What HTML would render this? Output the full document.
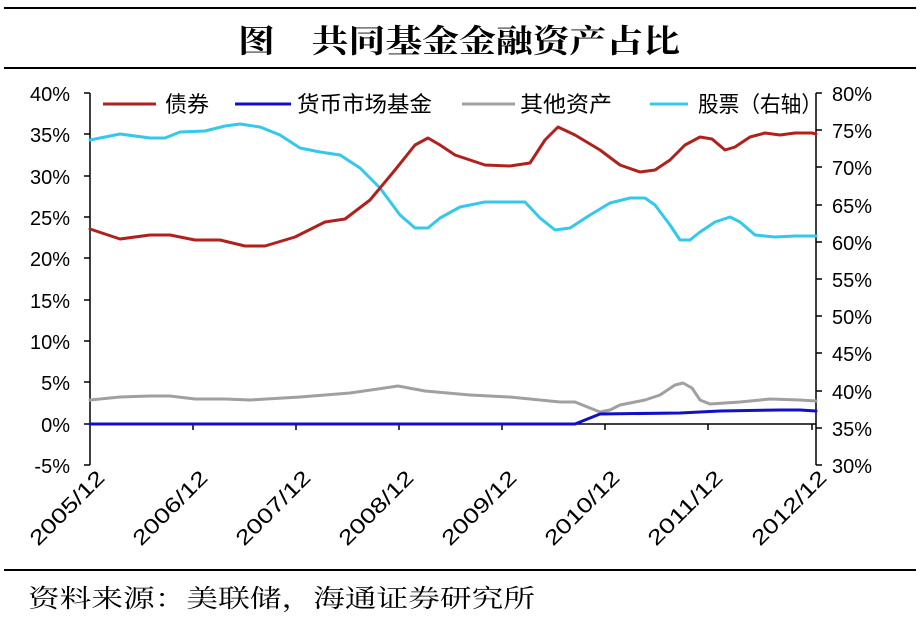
<!DOCTYPE html>
<html><head><meta charset="utf-8"><style>
body{margin:0;background:#fff;}
svg text{font-family:"Liberation Sans","Noto Sans CJK SC",sans-serif;}
</style></head><body>
<svg width="920" height="618" xmlns="http://www.w3.org/2000/svg">
<line x1="4" y1="8" x2="916" y2="8" stroke="#000" stroke-width="2"/>
<line x1="4" y1="68" x2="916" y2="68" stroke="#000" stroke-width="2"/>
<line x1="4" y1="570" x2="916" y2="570" stroke="#000" stroke-width="2"/>
<text x="238" y="52" font-size="32" font-weight="bold" textLength="442" lengthAdjust="spacingAndGlyphs" style="font-family:'Noto Serif CJK SC','Noto Sans CJK SC',serif">图　共同基金金融资产占比</text>
<text x="28" y="607" font-size="25" textLength="507" lengthAdjust="spacingAndGlyphs" style="font-family:'Noto Serif CJK SC','Noto Sans CJK SC',serif">资料来源：美联储，海通证券研究所</text>
<g stroke="#000" stroke-width="1.5" fill="none">
<line x1="90" y1="93" x2="90" y2="465"/>
<line x1="84" y1="93" x2="90" y2="93"/><line x1="84" y1="134" x2="90" y2="134"/><line x1="84" y1="176" x2="90" y2="176"/><line x1="84" y1="217" x2="90" y2="217"/><line x1="84" y1="258" x2="90" y2="258"/><line x1="84" y1="300" x2="90" y2="300"/><line x1="84" y1="341" x2="90" y2="341"/><line x1="84" y1="382" x2="90" y2="382"/><line x1="84" y1="424" x2="90" y2="424"/><line x1="84" y1="465" x2="90" y2="465"/>
<line x1="816" y1="93" x2="816" y2="465"/>
<line x1="816" y1="93" x2="822" y2="93"/><line x1="816" y1="130" x2="822" y2="130"/><line x1="816" y1="167" x2="822" y2="167"/><line x1="816" y1="205" x2="822" y2="205"/><line x1="816" y1="242" x2="822" y2="242"/><line x1="816" y1="279" x2="822" y2="279"/><line x1="816" y1="316" x2="822" y2="316"/><line x1="816" y1="353" x2="822" y2="353"/><line x1="816" y1="391" x2="822" y2="391"/><line x1="816" y1="428" x2="822" y2="428"/><line x1="816" y1="465" x2="822" y2="465"/>
<line x1="90" y1="424" x2="816" y2="424"/>
<line x1="193" y1="424" x2="193" y2="430"/><line x1="296" y1="424" x2="296" y2="430"/><line x1="399" y1="424" x2="399" y2="430"/><line x1="502" y1="424" x2="502" y2="430"/><line x1="605" y1="424" x2="605" y2="430"/><line x1="708" y1="424" x2="708" y2="430"/><line x1="812" y1="424" x2="812" y2="430"/>
</g>
<g font-size="20" text-anchor="end">
<text x="70" y="101">40%</text><text x="70" y="142">35%</text><text x="70" y="184">30%</text><text x="70" y="225">25%</text><text x="70" y="266">20%</text><text x="70" y="308">15%</text><text x="70" y="349">10%</text><text x="70" y="390">5%</text><text x="70" y="432">0%</text><text x="70" y="473">-5%</text>
</g>
<g font-size="20">
<text x="832" y="101">80%</text><text x="832" y="138">75%</text><text x="832" y="175">70%</text><text x="832" y="213">65%</text><text x="832" y="250">60%</text><text x="832" y="287">55%</text><text x="832" y="324">50%</text><text x="832" y="361">45%</text><text x="832" y="399">40%</text><text x="832" y="436">35%</text><text x="832" y="473">30%</text>
</g>
<g font-size="21" text-anchor="end">
<text transform="translate(106,479) rotate(-45)" textLength="96" lengthAdjust="spacingAndGlyphs">2005/12</text>
<text transform="translate(209,479) rotate(-45)" textLength="96" lengthAdjust="spacingAndGlyphs">2006/12</text>
<text transform="translate(312,479) rotate(-45)" textLength="96" lengthAdjust="spacingAndGlyphs">2007/12</text>
<text transform="translate(415,479) rotate(-45)" textLength="96" lengthAdjust="spacingAndGlyphs">2008/12</text>
<text transform="translate(518,479) rotate(-45)" textLength="96" lengthAdjust="spacingAndGlyphs">2009/12</text>
<text transform="translate(621,479) rotate(-45)" textLength="96" lengthAdjust="spacingAndGlyphs">2010/12</text>
<text transform="translate(724,479) rotate(-45)" textLength="96" lengthAdjust="spacingAndGlyphs">2011/12</text>
<text transform="translate(828,479) rotate(-45)" textLength="96" lengthAdjust="spacingAndGlyphs">2012/12</text>
</g>
<g fill="none" stroke-width="3" stroke-linejoin="round" stroke-linecap="round">
<polyline stroke="#a0a0a0" points="90,400 120,397 150,396 170,396 195,399 225,399 250,400 300,397 350,393 398,386 425,391 470,395 510,397 540,400 560,402 575,402 590,408 600,412 610,410 620,405 645,400 660,395 675,385 683,383 692,388 700,400 710,404 740,402 770,399 800,400 816,401"/>
<polyline stroke="#1010c8" points="90,424 570,424 575,424 580,422 600,414 680,413 720,411 780,410 800,410 816,411"/>
<polyline stroke="#33c8ec" points="90,140 120,134 150,138 165,138 180,132 205,131 225,126 240,124 260,127 280,135 300,148 320,152 340,155 360,168 380,188 400,215 415,228 428,228 440,218 460,207 485,202 510,202 525,202 540,218 555,230 570,228 590,215 610,203 630,198 645,198 655,205 670,225 680,240 690,240 700,232 715,222 730,217 740,222 755,235 775,237 795,236 816,236"/>
<polyline stroke="#b0201c" points="90,229 120,239 150,235 170,235 195,240 220,240 245,246 265,246 295,237 325,222 345,219 370,200 395,170 415,145 428,138 440,145 455,155 485,165 510,166 530,163 545,140 558,127 575,135 600,150 620,165 640,172 655,170 670,160 685,145 700,137 712,139 725,150 735,147 750,137 765,133 780,135 795,133 812,133 816,134"/>
</g>
<g stroke-width="3">
<line x1="103" y1="104" x2="156" y2="104" stroke="#b0201c"/>
<line x1="235" y1="104" x2="291" y2="104" stroke="#1010c8"/>
<line x1="462" y1="104" x2="515" y2="104" stroke="#a0a0a0"/>
<line x1="650" y1="104" x2="688" y2="104" stroke="#33c8ec"/>
</g>
<g font-size="22" style="font-family:'Noto Serif CJK SC','Noto Sans CJK SC',serif">
<text x="165" y="112" textLength="44" lengthAdjust="spacingAndGlyphs">债券</text>
<text x="297" y="112" textLength="135" lengthAdjust="spacingAndGlyphs">货币市场基金</text>
<text x="520" y="112" textLength="92" lengthAdjust="spacingAndGlyphs">其他资产</text>
<text x="698" y="112" textLength="124" lengthAdjust="spacingAndGlyphs">股票（右轴）</text>
</g>
</svg>
</body></html>
